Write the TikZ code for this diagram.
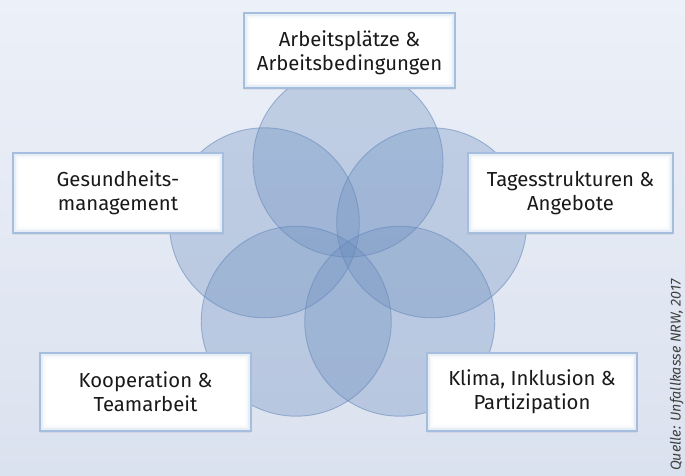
\documentclass[tikz,border=0pt]{standalone}
\usepackage{fontspec}
\setmainfont{Fira Sans}
\usetikzlibrary{shadows}
\definecolor{bgtop}{RGB}{236,240,248}
\definecolor{bgbot}{RGB}{219,226,239}
\definecolor{circfill}{RGB}{105,140,190}
\definecolor{circline}{RGB}{100,135,186}
\definecolor{boxline}{RGB}{165,190,222}
\definecolor{txt}{RGB}{25,25,25}
\tikzset{
  petal/.style={fill=circfill, fill opacity=0.32},
  petalline/.style={draw=circline, draw opacity=0.55, line width=0.9pt},
  box/.style={rectangle, fill=white, draw=boxline, line width=1.6pt, align=center, text=txt,
    font=\fontsize{20.3}{24}\selectfont, inner sep=0pt,
    drop shadow={opacity=0.12, shadow xshift=0pt, shadow yshift=-2pt}},
  glow/.style={draw=boxline, line width=1.5pt},
  src/.style={font=\fontsize{14.3}{16}\selectfont\itshape, text=black!75, rotate=90, inner sep=0pt}
}
\newcommand{\boxglow}[1]{%
  \foreach \i/\o in {1/0.45,2/0.25,3/0.12,4/0.05}{
    \draw[glow, opacity=\o] ([xshift=\i*1.5pt,yshift=-\i*1.5pt]#1.north west) rectangle ([xshift=-\i*1.5pt,yshift=\i*1.5pt]#1.south east);
  }}
\begin{document}
\begin{tikzpicture}[x=1pt,y=-1pt]
\shade[top color=bgtop, bottom color=bgbot] (0,0) rectangle (685,475);
\useasboundingbox (0,0) rectangle (685,475);
% petals: pentagon centre (348,250), R=88, r=95
\coordinate (c) at (348,250);
\foreach \a in {90,162,234,306,18}{
  \fill[petal] ([shift={(\a:88 and -88)}]c) circle[radius=95];
}
\foreach \a in {90,162,234,306,18}{
  \draw[petalline] ([shift={(\a:88 and -88)}]c) circle[radius=95];
}
% boxes
\node[box, minimum width=211pt, minimum height=75pt, text depth=-10pt] (top) at (349.5,50.5) {Arbeitsplätze \&\\Arbeitsbedingungen};
\node[box, minimum width=210pt, minimum height=80pt] (left) at (118,193) {Gesundheits-\\management};
\node[box, minimum width=205pt, minimum height=80pt] (right) at (570.5,193) {Tagesstrukturen \&\\Angebote};
\node[box, minimum width=211pt, minimum height=78pt] (bl) at (145.5,392) {Kooperation \&\\Teamarbeit};
\node[box, minimum width=210pt, minimum height=78pt] (br) at (532,392) {Klima, Inklusion \&\\Partizipation};
\boxglow{top}\boxglow{left}\boxglow{right}\boxglow{bl}\boxglow{br}
\node[src, anchor=base west] (src) at (680.5,471) {Quelle: Unfallkasse NRW, 2017};
\end{tikzpicture}
\end{document}
